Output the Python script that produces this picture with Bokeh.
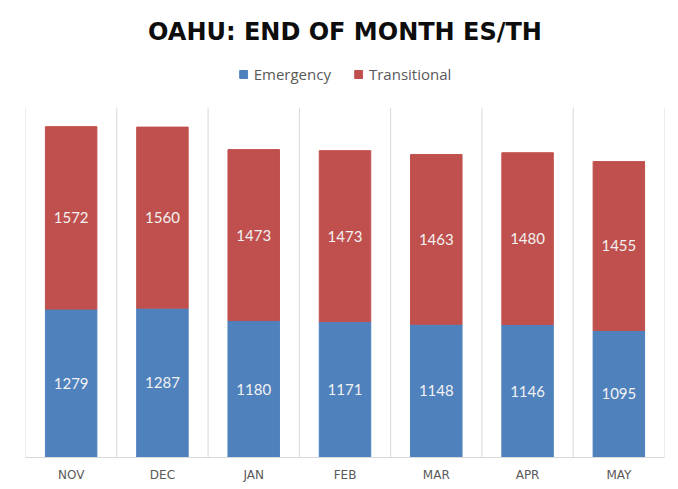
from bokeh.plotting import figure
from bokeh.models import ColumnDataSource, FixedTicker, Legend, LegendItem, Range1d, Title
from bokeh.core.properties import value
from bokeh.embed import file_html
from bokeh.resources import INLINE

months = ["NOV", "DEC", "JAN", "FEB", "MAR", "APR", "MAY"]
emergency = [1279, 1287, 1180, 1171, 1148, 1146, 1095]
transitional = [1572, 1560, 1473, 1473, 1463, 1480, 1455]

BLUE = "#4F81BD"
RED = "#C0504D"
AXIS_MAX = 3015      # value at the top of the plot area (where grid lines stop)
VIEW_MAX = 3507      # extra room above for the legend

xs = list(range(len(months)))
top_e = emergency
top_t = [e + t for e, t in zip(emergency, transitional)]
mid_e = [e / 2 for e in emergency]
mid_t = [e + t / 2 for e, t in zip(emergency, transitional)]

src = ColumnDataSource(dict(
    x=xs, e=emergency, t=transitional, top_e=top_e, top_t=top_t,
    mid_e=mid_e, mid_t=mid_t,
    lab_e=[str(v) for v in emergency], lab_t=[str(v) for v in transitional],
))

bounds = [i - 0.5 for i in range(len(months) + 1)]
grid_src = ColumnDataSource(dict(x=bounds, y0=[0] * len(bounds), y1=[AXIS_MAX] * len(bounds)))

p = figure(width=670, height=484, output_backend="svg", toolbar_location=None,
           x_range=Range1d(-0.5, len(months) - 0.5), y_range=Range1d(0, VIEW_MAX),
           y_axis_location=None, min_border_left=25, min_border_right=6,
           min_border_top=50, min_border_bottom=0)
p.outline_line_color = None
p.background_fill_color = "white"
p.border_fill_color = "white"
p.xgrid.visible = False
p.ygrid.visible = False

p.segment(x0="x", x1="x", y0="y0", y1="y1", source=grid_src,
          line_color="#D9D9D9", line_width=1)

r_e = p.vbar(x="x", bottom=0, top="top_e", width=0.564, color=BLUE, source=src)
r_t = p.vbar(x="x", bottom="top_e", top="top_t", width=0.564, color=RED, source=src)

p.text(x="x", y="mid_e", text="lab_e", source=src, text_align="center",
       text_baseline="middle", text_color="#F2F2F2", text_font_size="15px",
       text_font=value("Lato"))
p.text(x="x", y="mid_t", text="lab_t", source=src, text_align="center",
       text_baseline="middle", text_color="#F2F2F2", text_font_size="15px",
       text_font=value("Lato"))

ax = p.xaxis[0]
ax.ticker = FixedTicker(ticks=xs)
ax.major_label_overrides = {i: m for i, m in enumerate(months)}
ax.axis_line_color = "#D9D9D9"
ax.major_tick_line_color = None
ax.minor_tick_line_color = None
ax.major_tick_out = 0
ax.major_tick_in = 0
ax.major_label_text_font_size = "12px"
ax.major_label_text_color = "#595959"
ax.major_label_text_font = "DejaVu Sans"
ax.major_label_standoff = 10

legend = Legend(items=[LegendItem(label="Emergency", renderers=[r_e]),
                       LegendItem(label="Transitional", renderers=[r_t])],
                orientation="horizontal", location="top_center",
                label_text_font_size="15px", label_text_color="#595959",
                label_text_font="Open Sans",
                glyph_width=10, glyph_height=10, spacing=22, label_standoff=6,
                border_line_color=None, background_fill_alpha=0,
                padding=4, margin=14)
p.add_layout(legend, "center")

title = Title(text="OAHU: END OF MONTH ES/TH", align="center",
              text_font_size="24px", text_font_style="bold",
              text_color="#0D0D0D", text_font="DejaVu Sans", standoff=10)
p.add_layout(title, "above")

open("out.html", "w").write(file_html(p, INLINE))
